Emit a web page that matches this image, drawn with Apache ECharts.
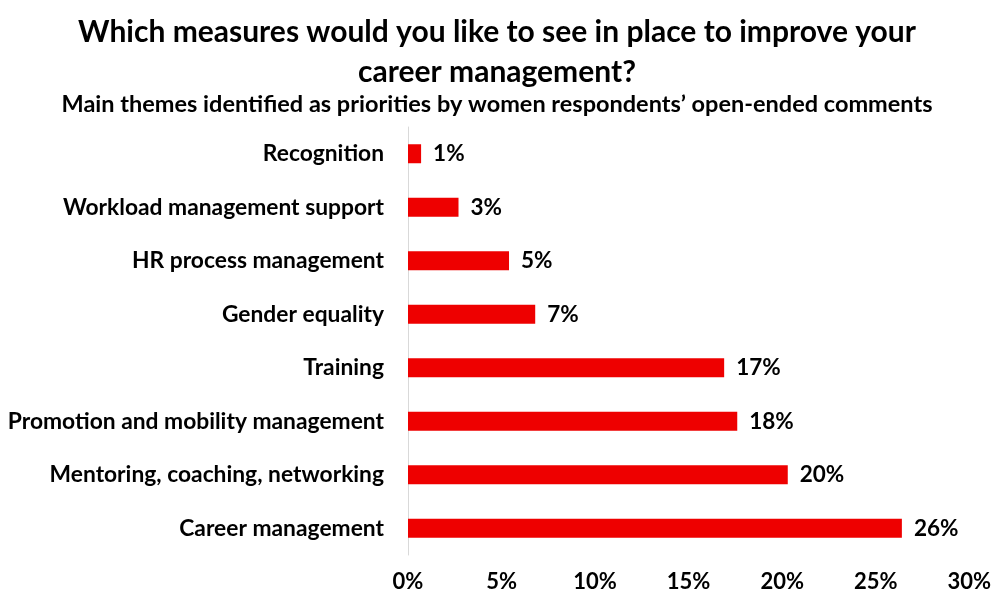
<!DOCTYPE html>
<html>
<head>
<meta charset="utf-8">
<script src="https://cdn.jsdelivr.net/npm/echarts@6/dist/echarts.min.js"></script>
<style>
  html, body { margin: 0; padding: 0; background: #fff; }
  #chart { width: 994px; height: 597px; }
</style>
</head>
<body>
<div id="chart"></div>
<script>
// Themes, listed bottom-to-top as the category axis draws them
const categories = [
  'Career management',
  'Mentoring, coaching, networking',
  'Promotion and mobility management',
  'Training',
  'Gender equality',
  'HR process management',
  'Workload management support',
  'Recognition'
];
// Share of comments per theme (%)
const shares = [26.4, 20.3, 17.6, 16.9, 6.8, 5.4, 2.7, 0.7];
const axisTicks = [0, 5, 10, 15, 20, 25, 30];

const titleLine1 = 'Which measures would you like to see in place to improve your';
const titleLine2 = 'career management?';
const subtitle = 'Main themes identified as priorities by women respondents\u2019 open-ended comments';

const FONT = 'Lato';

const chart = echarts.init(document.getElementById('chart'), null, { renderer: 'canvas' });
chart.setOption({
  backgroundColor: '#ffffff',
  animation: false,
  title: [
    {
      text: titleLine1 + '\n' + titleLine2,
      left: 'center',
      top: 7,
      textStyle: { fontFamily: FONT, fontWeight: 'bold', fontSize: 30, color: '#000', lineHeight: 40 }
    },
    {
      text: subtitle,
      left: 'center',
      top: 86,
      textStyle: { fontFamily: FONT, fontWeight: 'bold', fontSize: 23.5, color: '#000', lineHeight: 26 }
    }
  ],
  grid: { left: 408, right: 24, top: 127, bottom: 42, containLabel: false },
  xAxis: {
    type: 'value',
    min: axisTicks[0],
    max: axisTicks[axisTicks.length - 1],
    interval: 5,
    axisLine: { show: false },
    axisTick: { show: false },
    splitLine: { show: false },
    axisLabel: {
      formatter: v => v + '%',
      fontFamily: FONT, fontWeight: 'bold', fontSize: 22, color: '#000', margin: 16
    }
  },
  yAxis: {
    type: 'category',
    data: categories,
    axisLine: { show: true, lineStyle: { color: '#d9d9d9', width: 1 } },
    axisTick: { show: false },
    axisLabel: { fontFamily: FONT, fontWeight: 'bold', fontSize: 22.8, color: '#000', margin: 24 }
  },
  series: [{
    type: 'bar',
    data: shares,
    barWidth: 19,
    itemStyle: { color: '#ee0000' },
    label: {
      show: true,
      position: 'right',
      distance: 12,
      formatter: p => Math.round(p.value) + '%',
      fontFamily: FONT, fontWeight: 'bold', fontSize: 22.5, color: '#000'
    }
  }]
});
</script>
</body>
</html>
